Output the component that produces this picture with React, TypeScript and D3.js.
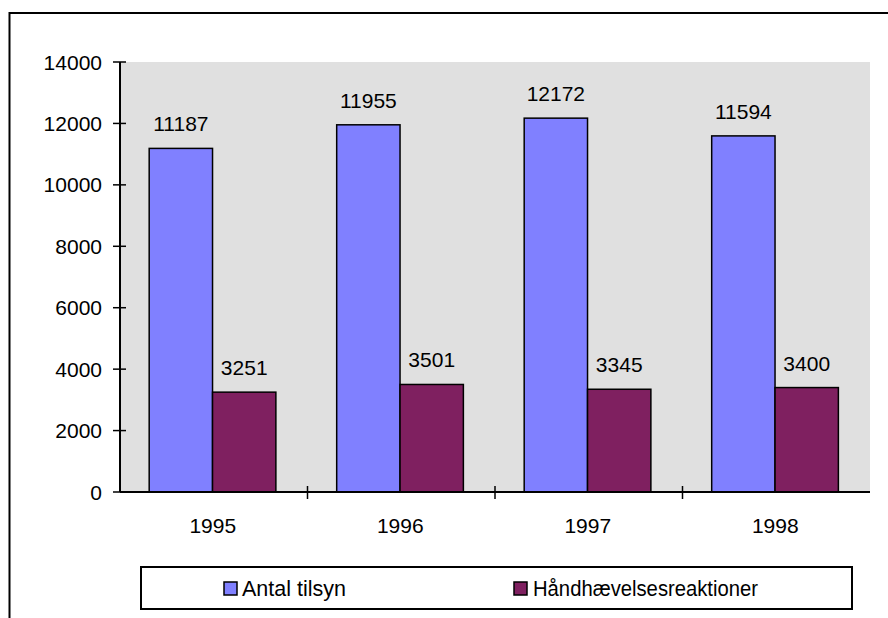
import React from "react";
import * as d3 from "d3";

const categories = ["1995", "1996", "1997", "1998"];
const antalTilsyn = [11187, 11955, 12172, 11594];
const haandhaevelse = [3251, 3501, 3345, 3400];
const yTicks = [0, 2000, 4000, 6000, 8000, 10000, 12000, 14000];
const seriesNames = ["Antal tilsyn", "Håndhævelsesreaktioner"];
const seriesColors = ["#8080ff", "#7f2060"];

const W = 888;
const H = 618;
const plot = { left: 120, right: 870, top: 62, bottom: 492 };
const FONT = "'Liberation Sans', Arial, Helvetica, sans-serif";

export default function App() {
  const x = d3
    .scaleBand<string>()
    .domain(categories)
    .range([plot.left, plot.right])
    .paddingInner(0)
    .paddingOuter(0);
  const xs = d3
    .scaleBand<string>()
    .domain(["a", "b"])
    .range([0, x.bandwidth()])
    .paddingInner(0)
    .paddingOuter(0.48)
    .align(0.48);
  const y = d3.scaleLinear().domain([0, 14000]).range([plot.bottom, plot.top]);

  const series = [antalTilsyn, haandhaevelse];
  const keys = ["a", "b"];
  const fs = 21;
  const lfs = 21.5;

  return (
    <svg
      width={W}
      height={H}
      style={{ position: "absolute", left: 0, top: 0, display: "block" }}
      fontFamily={FONT}
    >
      <rect x={0} y={0} width={W} height={H} fill="#fff" />
      <rect x={9.5} y={13} width={W + 20} height={H + 20} fill="#fff" stroke="#000" strokeWidth={2} />
      <rect
        x={plot.left}
        y={plot.top}
        width={plot.right - plot.left}
        height={plot.bottom - plot.top}
        fill="#e0e0e0"
      />
      {series.map((vals, si) =>
        vals.map((v, i) => {
          const bx = (x(categories[i]) as number) + (xs(keys[si]) as number);
          const bw = xs.bandwidth();
          return (
            <g key={`${si}-${i}`}>
              <rect
                x={bx}
                y={y(v)}
                width={bw}
                height={y(0) - y(v)}
                fill={seriesColors[si]}
                stroke="#000"
                strokeWidth={1.5}
              />
              <text
                x={bx + bw / 2}
                y={y(v) - 17}
                textAnchor="middle"
                fontSize={fs}
                fill="#000"
              >
                {v}
              </text>
            </g>
          );
        })
      )}
      {/* y axis */}
      <line x1={plot.left} x2={plot.left} y1={plot.top} y2={plot.bottom} stroke="#000" strokeWidth={2} />
      {yTicks.map((t) => (
        <g key={t}>
          <line x1={plot.left - 7} x2={plot.left + 6} y1={y(t)} y2={y(t)} stroke="#000" strokeWidth={1.5} />
          <text x={plot.left - 18} y={y(t)} dy="0.36em" textAnchor="end" fontSize={fs} fill="#000">
            {t}
          </text>
        </g>
      ))}
      {/* x axis */}
      <line x1={plot.left} x2={plot.right} y1={plot.bottom} y2={plot.bottom} stroke="#000" strokeWidth={2} />
      {categories.slice(1).map((c) => (
        <line
          key={c}
          x1={x(c) as number}
          x2={x(c) as number}
          y1={plot.bottom - 6}
          y2={plot.bottom + 7}
          stroke="#000"
          strokeWidth={1.5}
        />
      ))}
      {categories.map((c) => (
        <text
          key={c}
          x={(x(c) as number) + x.bandwidth() / 2 - 1}
          y={plot.bottom + 41}
          textAnchor="middle"
          fontSize={fs}
          fill="#000"
        >
          {c}
        </text>
      ))}
      {/* legend */}
      <rect x={141} y={567} width={711} height={42} fill="#fff" stroke="#000" strokeWidth={2} />
      <rect x={224} y={582} width={13} height={13} fill={seriesColors[0]} stroke="#000" strokeWidth={1.5} />
      <text x={242} y={596} fontSize={lfs} fill="#000">
        {seriesNames[0]}
      </text>
      <rect x={514} y={582} width={13} height={13} fill={seriesColors[1]} stroke="#000" strokeWidth={1.5} />
      <text
        x={533}
        y={596}
        fontSize={lfs}
        fill="#000"
        textLength={225}
        lengthAdjust="spacingAndGlyphs"
      >
        {seriesNames[1]}
      </text>
    </svg>
  );
}
